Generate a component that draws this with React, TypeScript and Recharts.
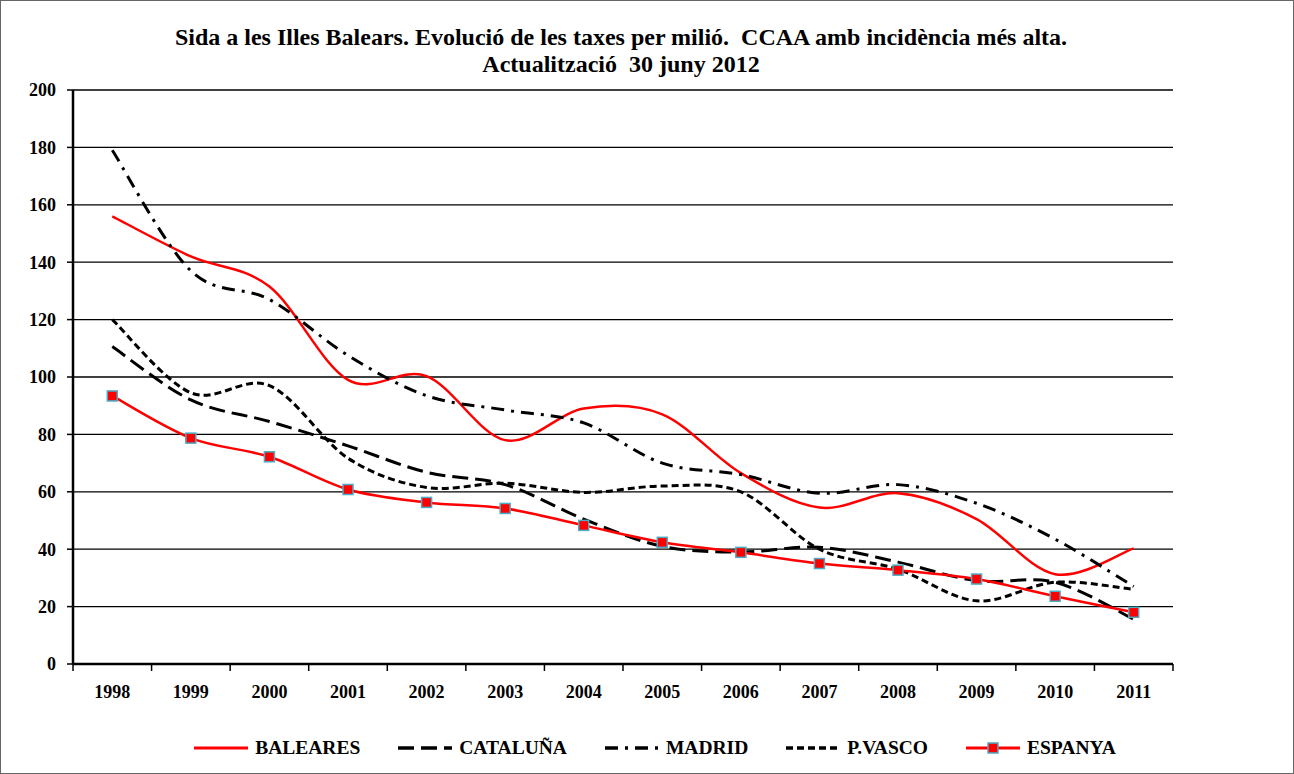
import React from "react";
import { LineChart, Line, XAxis, YAxis, CartesianGrid } from "recharts";

const years = ["1998", "1999", "2000", "2001", "2002", "2003", "2004", "2005", "2006", "2007", "2008", "2009", "2010", "2011"];
const baleares = [156, 142, 131.5, 99, 100.3, 78, 89, 87, 66.5, 54.5, 59.5, 50.5, 31.3, 40.3];
const catalunya = [110.6, 92, 84.5, 76, 66.8, 62.5, 50.5, 41, 39, 40.7, 35.5, 29, 28.5, 15.6];
const madrid = [179, 137, 127, 107.5, 93.5, 88.5, 84, 70, 66, 59.5, 62.5, 56, 43.5, 27];
const pvasco = [120, 94.5, 97, 71.7, 61.5, 63, 59.8, 62, 60, 40, 33, 22, 28.5, 26];
const espanya = [93.4, 78.7, 72.2, 60.8, 56.3, 54.2, 48.3, 42.4, 38.9, 35, 32.7, 29.6, 23.6, 18];
const yTicks = [0, 20, 40, 60, 80, 100, 120, 140, 160, 180, 200];

const series = [
  { key: "BALEARES", values: baleares, color: "#ff0000", dash: undefined, width: 2.5 },
  { key: "CATALUÑA", values: catalunya, color: "#000000", dash: "16 7", width: 3 },
  { key: "MADRID", values: madrid, color: "#000000", dash: "13 7 3 7", width: 3 },
  { key: "P.VASCO", values: pvasco, color: "#000000", dash: "7 4", width: 3 },
  { key: "ESPANYA", values: espanya, color: "#ff0000", dash: undefined, width: 2.5 },
];

const data = years.map((year, i) => {
  const row: any = { year };
  series.forEach((s) => {
    row[s.key] = s.values[i];
  });
  return row;
});

// Excel style smoothing (bezier, control points at 1/6 of neighbour spread)
const excelCurve: any = (context: any) => {
  let pts: number[][] = [];
  return {
    areaStart() {},
    areaEnd() {},
    lineStart() {
      pts = [];
    },
    point(x: number, y: number) {
      pts.push([+x, +y]);
    },
    lineEnd() {
      if (!pts.length) return;
      context.moveTo(pts[0][0], pts[0][1]);
      for (let i = 0; i < pts.length - 1; i++) {
        const p0 = pts[i - 1] || pts[i];
        const p1 = pts[i];
        const p2 = pts[i + 1];
        const p3 = pts[i + 2] || p2;
        context.bezierCurveTo(
          p1[0] + (p2[0] - p0[0]) / 6,
          p1[1] + (p2[1] - p0[1]) / 6,
          p2[0] - (p3[0] - p1[0]) / 6,
          p2[1] - (p3[1] - p1[1]) / 6,
          p2[0],
          p2[1]
        );
      }
    },
  };
};

const font = "'Liberation Serif', 'Times New Roman', serif";

const SquareDot = (props: any) => {
  const { cx, cy } = props;
  if (cx == null || cy == null) return null;
  return <rect x={cx - 5} y={cy - 5} width={10} height={10} fill="#ff0000" stroke="#4bacc6" strokeWidth={1.5} />;
};

const YearTick = (props: any) => {
  const { x, y, payload, index, visibleTicksCount, width } = props;
  const half = payload && payload.offset > 3 ? payload.offset : width / visibleTicksCount / 2;
  return (
    <g>
      <line x1={x - half} y1={y} x2={x - half} y2={y + 7} stroke="#000" strokeWidth={1.5} />
      {index === visibleTicksCount - 1 && (
        <line x1={x + half} y1={y} x2={x + half} y2={y + 7} stroke="#000" strokeWidth={1.5} />
      )}
      <text x={x} y={y + 34} textAnchor="middle" fontFamily={font} fontWeight="bold" fontSize={18} fill="#000">
        {payload.value}
      </text>
    </g>
  );
};

const LegendSample = ({ s }: { s: any }) => (
  <svg width={54} height={12} style={{ display: "block" }}>
    <line x1={0} y1={6} x2={54} y2={6} stroke={s.color} strokeWidth={s.width + 0.5} strokeDasharray={s.dash} />
    {s.key === "ESPANYA" && <rect x={22} y={1} width={10} height={10} fill="#ff0000" stroke="#4bacc6" strokeWidth={1.5} />}
  </svg>
);

export default function App() {
  return (
    <div
      style={{
        position: "absolute",
        left: 0,
        top: 0,
        width: 1294,
        height: 774,
        boxSizing: "border-box",
        border: "1px solid #666",
        background: "#fff",
        fontFamily: font,
      }}
    >
      <div
        style={{
          position: "absolute",
          left: 0,
          top: 23,
          width: 1240,
          textAlign: "center",
          fontWeight: "bold",
          fontSize: 24,
          lineHeight: "27px",
        }}
      >
        <div>Sida a les Illes Balears. Evolució de les taxes per milió.&nbsp; CCAA amb incidència més alta.</div>
        <div>Actualització&nbsp; 30 juny 2012</div>
      </div>
      <div style={{ position: "absolute", left: -1, top: -1 }}>
        <LineChart width={1294} height={774} data={data} margin={{ top: 90, right: 121, bottom: 70, left: 13 }}>
          <CartesianGrid vertical={false} stroke="#000" strokeWidth={1.3} />
          <XAxis
            dataKey="year"
            scale="band"
            interval={0}
            tickSize={0}
            tickMargin={0}
            tickLine={false}
            height={40}
            axisLine={{ stroke: "#000", strokeWidth: 2.5 }}
            tick={<YearTick />}
          />
          <YAxis
            domain={[0, 200]}
            ticks={yTicks}
            interval={0}
            width={60}
            tickSize={6}
            tickMargin={11}
            axisLine={{ stroke: "#000", strokeWidth: 2.5 }}
            tickLine={{ stroke: "#000", strokeWidth: 1.5 }}
            tick={{ fontFamily: font, fontWeight: "bold", fontSize: 18, fill: "#000" }}
          />
          <YAxis
            yAxisId="right"
            orientation="right"
            domain={[0, 200]}
            width={0}
            tick={false}
            tickLine={false}
            axisLine={{ stroke: "#808080", strokeWidth: 1.5 }}
          />
          {series.map((s) => (
            <Line
              key={s.key}
              dataKey={s.key}
              type={excelCurve}
              stroke={s.color}
              strokeWidth={s.width}
              strokeDasharray={s.dash}
              dot={s.key === "ESPANYA" ? <SquareDot /> : false}
              activeDot={false}
              isAnimationActive={false}
            />
          ))}
        </LineChart>
      </div>
      <div
        style={{
          position: "absolute",
          left: 14,
          top: 736,
          width: 1280,
          display: "flex",
          justifyContent: "center",
          alignItems: "center",
          gap: 38,
          fontWeight: "bold",
          fontSize: 19.5,
        }}
      >
        {series.map((s) => (
          <div key={s.key} style={{ display: "flex", alignItems: "center", gap: 7 }}>
            <LegendSample s={s} />
            <span>{s.key}</span>
          </div>
        ))}
      </div>
    </div>
  );
}
